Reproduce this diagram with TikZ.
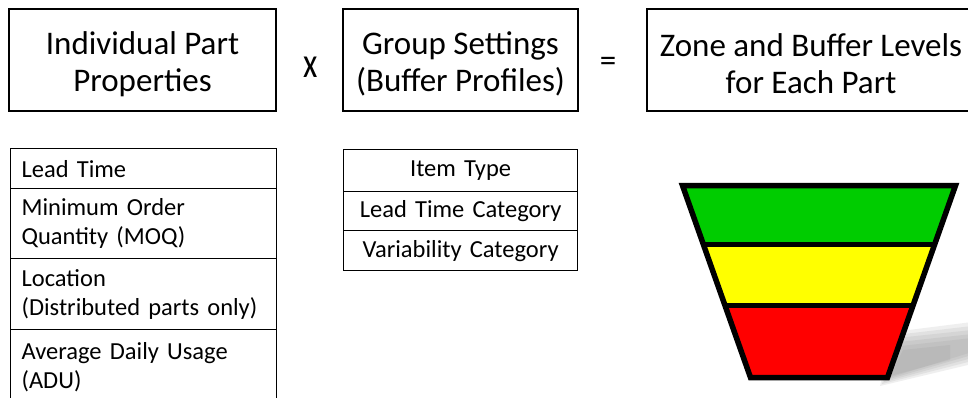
\documentclass[tikz,border=0pt]{standalone}
\usepackage{fontspec}
\setmainfont{Carlito}
\definecolor{zgreen}{RGB}{0,204,0}
\definecolor{zyellow}{RGB}{255,255,0}
\definecolor{zred}{RGB}{255,0,0}
\begin{document}
\begin{tikzpicture}[x=1pt,y=-1pt,
  titlebox/.style={draw,line width=2pt,minimum height=102pt,inner sep=0pt},
  titletext/.style={align=center,font=\fontsize{33}{37}\selectfont,inner sep=0pt},
  op/.style={font=\fontsize{33}{37}\selectfont,inner sep=0pt},
  lrow/.style={draw,line width=1.2pt,anchor=north west,align=left,
    text width=244pt,inner xsep=11pt,inner ysep=0pt,
    font=\fontsize{24.5}{29}\selectfont},
  mrow/.style={draw,line width=1.2pt,anchor=north west,align=center,
    text width=234pt,inner xsep=0pt,inner ysep=0pt,
    font=\fontsize{24.5}{29}\selectfont},
  shadowlayer/.style={fill=gray,opacity=0.12},
  zoneline/.style={line width=5pt},
  funnel/.style={line width=5.5pt,line join=miter}]
\clip (0,0) rectangle (968,397);
\fill[white] (0,0) rectangle (968,397);

% title row
\node[titlebox,minimum width=267pt] (ipp) at (142.5,60) {};
\node[titletext] (ippt) at ([yshift=-4pt]ipp.center) {Individual Part\\Properties};
\node[op] (times) at (311,67) {\scalebox{1}[1.3]{x}};
\node[titlebox,minimum width=235pt] (gs) at (460.5,60) {};
\node[titletext] (gst) at ([yshift=-4pt]gs.center) {Group Settings\\(Buffer Profiles)};
\node[op] (eq) at (608,64) {=};
\node[titlebox,minimum width=328pt] (zb) at (811,60) {};
\node[titletext] (zbt) at ([yshift=-4pt]zb.center) {Zone and Buffer Levels\\for Each Part};

% left table
\node[lrow,minimum height=40pt] (lt) at (10,148) {Lead Time};
\node[lrow,minimum height=70pt] (moq) at (10,188) {Minimum Order\\Quantity (MOQ)};
\node[lrow,minimum height=71pt] (loc) at (10,258) {Location\\(Distributed parts only)};
\node[lrow,minimum height=75pt] (adu) at (10,329) {Average Daily Usage\\(ADU)};

% middle table
\node[mrow,minimum height=42pt] (it) at (343,149) {Item Type};
\node[mrow,minimum height=39pt] (ltc) at (343,191) {Lead Time Category};
\node[mrow,minimum height=40pt] (vc) at (343,230) {Variability Category};

% soft shadow (layered)
\fill[shadowlayer] (880,386) -- (893,332) -- (972,322) -- (972,364) -- cycle;
\fill[shadowlayer] (882,384) -- (895,335) -- (972,326) -- (972,361) -- cycle;
\fill[shadowlayer] (884,382) -- (897,338) -- (972,330) -- (972,358) -- cycle;
\fill[shadowlayer] (886,380) -- (899,342) -- (972,334) -- (972,355) -- cycle;
\fill[shadowlayer] (888,378) -- (901,346) -- (972,338) -- (972,352) -- cycle;
\fill[shadowlayer] (890,376) -- (903,350) -- (950,345) -- (950,360) -- cycle;

% funnel
\coordinate (fa) at (682.5,185.5);
\coordinate (fb) at (955.5,185.5);
\coordinate (fc) at (887.5,377.5);
\coordinate (fd) at (750.5,377.5);
\coordinate (g1) at (703.2,244);
\coordinate (g2) at (934.8,244);
\coordinate (y1) at (724.8,305);
\coordinate (y2) at (913.2,305);
\fill[zgreen] (fa) -- (fb) -- (g2) -- (g1) -- cycle;
\fill[zyellow] (g1) -- (g2) -- (y2) -- (y1) -- cycle;
\fill[zred] (y1) -- (y2) -- (fc) -- (fd) -- cycle;
\draw[zoneline] (g1) -- (g2);
\draw[zoneline] (y1) -- (y2);
\draw[funnel] (fa) -- (fb) -- (fc) -- (fd) -- cycle;
\end{tikzpicture}
\end{document}
